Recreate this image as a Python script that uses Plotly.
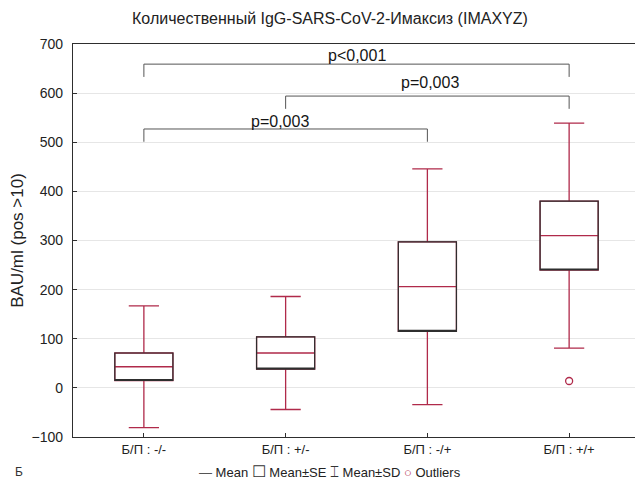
import plotly.graph_objects as go

categories = ["Б/П : -/-", "Б/П : +/-", "Б/П : -/+", "Б/П : +/+"]
means = [43, 71, 206, 310]
se = [28, 33, 91, 70]
sd = [124, 115, 240, 229]
outlier_cat = ["Б/П : +/+"]
outlier_val = [14]

bracket_left = [0, 1, 0]
bracket_right = [3, 3, 2]
bracket_y = [659, 594, 527]
bracket_drop = 26
bracket_text = ["p<0,001", "p=0,003", "p=0,003"]
bracket_text_x = [1.5, 2.02, 0.96]
bracket_text_y = [676, 622, 543]

y_ticks = [-100, 0, 100, 200, 300, 400, 500, 600, 700]

RED = "#b02a4a"
DARK = "#2e2e2e"
FONT = "Liberation Sans, Arial, sans-serif"

q1 = [m - s for m, s in zip(means, se)]
q3 = [m + s for m, s in zip(means, se)]
lo = [m - d for m, d in zip(means, sd)]
hi = [m + d for m, d in zip(means, sd)]

fig = go.Figure()
# whiskers + mean line (red)
fig.add_trace(go.Box(
    x=categories, q1=q1, median=means, q3=q3, lowerfence=lo, upperfence=hi,
    line=dict(color=RED, width=1.3), fillcolor="white", whiskerwidth=0.52,
    width=0.41, boxpoints=False, showlegend=False, hoverinfo="skip"))
# box outline (dark)
fig.add_trace(go.Box(
    x=categories, q1=q1, median=q1, q3=q3, lowerfence=q1, upperfence=q3,
    line=dict(color=DARK, width=1.2), fillcolor="rgba(0,0,0,0)", whiskerwidth=0,
    width=0.41, boxpoints=False, showlegend=False, hoverinfo="skip"))
# outlier
fig.add_trace(go.Scatter(
    x=outlier_cat, y=outlier_val, mode="markers",
    marker=dict(symbol="circle-open", size=7, color=RED, line=dict(width=1.3)),
    showlegend=False, hoverinfo="skip"))

# significance brackets
for l, r, yv in zip(bracket_left, bracket_right, bracket_y):
    fig.add_trace(go.Scatter(
        x=[categories[l], categories[l], categories[r], categories[r]],
        y=[yv - bracket_drop, yv, yv, yv - bracket_drop],
        mode="lines", line=dict(color="#555555", width=1),
        showlegend=False, hoverinfo="skip"))

annotations = []
for t, tx, ty in zip(bracket_text, bracket_text_x, bracket_text_y):
    annotations.append(dict(
        x=tx, y=ty, xref="x", yref="y", text=t,
        showarrow=False, font=dict(family=FONT, size=16, color="#151515")))

annotations.append(dict(
    x=0.453, y=-0.089, xref="paper", yref="paper", xanchor="center", yanchor="middle",
    text="<span style='color:#555'>—</span> Mean <span style='color:#333;font-size:16px'>☐</span> Mean±SE "
         "<span style='color:#333;font-size:15px'>⌶</span> Mean±SD <span style='color:#b02a4a'>○</span> Outliers",
    showarrow=False, font=dict(family=FONT, size=13, color="#222222")))
annotations.append(dict(
    x=-0.106, y=-0.089, xref="paper", yref="paper", xanchor="left", yanchor="middle",
    text="Б", showarrow=False, font=dict(family=FONT, size=12, color="#333333")))

fig.update_layout(
    width=635, height=475,
    margin=dict(l=65, r=3, t=36, b=46, autoexpand=False),
    paper_bgcolor="white", plot_bgcolor="white",
    boxmode="overlay",
    font=dict(family=FONT, size=12, color="#222222"),
    title=dict(text="Количественный IgG-SARS-CoV-2-Имаксиз (IMAXYZ)",
               x=0.507, xanchor="center", y=0.979, yanchor="middle",
               font=dict(family=FONT, size=16, color="#222222")),
    annotations=annotations,
    xaxis=dict(
        categoryorder="array", categoryarray=categories, automargin=False,
        range=[-0.5, 3.5], showline=True, linecolor=DARK, linewidth=1.3,
        mirror=True, ticks="inside", ticklen=4, tickcolor=DARK,
        showgrid=False, tickfont=dict(size=13, color="#222222")),
    yaxis=dict(
        range=[-100, 700], tickvals=y_ticks, showline=True, linecolor=DARK,
        linewidth=1.3, mirror="ticks", ticks="inside", ticklen=4, tickcolor=DARK,
        showgrid=True, gridcolor="#e6e6e6", zeroline=False, automargin=False,
        ticklabelstandoff=6,
        tickfont=dict(size=14, color="#222222"),
        title=dict(text="BAU/ml (pos >10)", font=dict(size=17, color="#222222"), standoff=4)),
)

fig.write_html("out.html")
